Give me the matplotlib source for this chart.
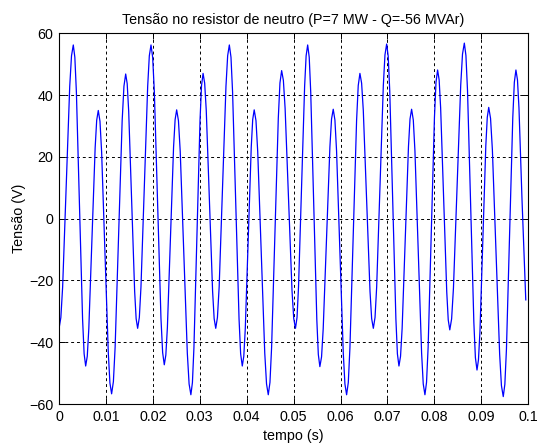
import numpy as np
import matplotlib
matplotlib.use('Agg')
import matplotlib.pyplot as plt

### values (one row per half wave)
tempo = [0.0, 0.00038, 0.00076, 0.00152, 0.00227, 0.00265,
         0.00303, 0.00336, 0.00369, 0.00435, 0.00501, 0.00534,
         0.00567, 0.00601, 0.00634, 0.00702, 0.00769, 0.00802,
         0.00836, 0.00872, 0.00907, 0.00978, 0.01049, 0.01084,
         0.0112, 0.01158, 0.01195, 0.0127, 0.01345, 0.01383,
         0.0142, 0.01452, 0.01484, 0.01548, 0.01611, 0.01643,
         0.01675, 0.01711, 0.01746, 0.01818, 0.01889, 0.01924,
         0.0196, 0.01995, 0.02031, 0.02102, 0.02172, 0.02208,
         0.02243, 0.02276, 0.02309, 0.02375, 0.02441, 0.02474,
         0.02507, 0.02545, 0.02583, 0.02659, 0.02734, 0.02772,
         0.0281, 0.02843, 0.02875, 0.0294, 0.03005, 0.03037,
         0.0307, 0.03104, 0.03138, 0.03205, 0.03273, 0.03306,
         0.0334, 0.03376, 0.03413, 0.03485, 0.03558, 0.03594,
         0.0363, 0.03665, 0.03699, 0.03768, 0.03837, 0.03871,
         0.03906, 0.03938, 0.0397, 0.04033, 0.04097, 0.04128,
         0.0416, 0.04198, 0.04235, 0.0431, 0.04385, 0.04423,
         0.0446, 0.04496, 0.04531, 0.04603, 0.04674, 0.04709,
         0.04745, 0.04782, 0.04819, 0.04893, 0.04966, 0.05003,
         0.0504, 0.05073, 0.05105, 0.0517, 0.05235, 0.05267,
         0.053, 0.05333, 0.05365, 0.0543, 0.05495, 0.05527,
         0.0556, 0.05596, 0.05631, 0.05703, 0.05774, 0.05809,
         0.05845, 0.05881, 0.05916, 0.05988, 0.06059, 0.06094,
         0.0613, 0.06166, 0.06201, 0.06272, 0.06343, 0.06378,
         0.06414, 0.0645, 0.06486, 0.06557, 0.06629, 0.06664,
         0.067, 0.06736, 0.06771, 0.06842, 0.06913, 0.06948,
         0.06984, 0.07017, 0.0705, 0.07115, 0.07181, 0.07213,
         0.07246, 0.0728, 0.07314, 0.07381, 0.07449, 0.07482,
         0.07516, 0.07552, 0.07587, 0.07658, 0.07729, 0.07764,
         0.078, 0.07834, 0.07868, 0.07935, 0.08003, 0.08036,
         0.0807, 0.08103, 0.08135, 0.082, 0.08265, 0.08297,
         0.0833, 0.08369, 0.08408, 0.08485, 0.08563, 0.08601,
         0.0864, 0.08674, 0.08708, 0.08775, 0.08843, 0.08876,
         0.0891, 0.08941, 0.08973, 0.09035, 0.09098, 0.09129,
         0.0916, 0.09199, 0.09238, 0.09315, 0.09393, 0.09431,
         0.0947, 0.09504, 0.09538, 0.09605, 0.09673, 0.09706,
         0.0974, 0.09773, 0.09805, 0.0987, 0.0995]

tensao = [-35.5, -32.0, -22.1, 10.35, 42.8, 52.7,
          56.2, 52.25, 41.0, 4.25, -32.5, -43.75,
          -47.7, -44.55, -35.6, -6.35, 22.9, 31.85,
          35.0, 31.5, 21.6, -10.85, -43.3, -53.2,
          -56.7, -52.75, -41.6, -4.95, 31.7, 42.85,
          46.8, 43.7, 34.8, 5.65, -23.5, -32.4,
          -35.5, -32.0, -22.1, 10.35, 42.8, 52.7,
          56.2, 52.25, 41.1, 4.45, -32.2, -43.35,
          -47.3, -44.15, -35.3, -6.05, 23.2, 32.05,
          35.2, 31.7, 21.7, -10.9, -43.5, -53.5,
          -57.0, -53.05, -41.8, -5.0, 31.8, 43.05,
          47.0, 43.85, 35.0, 5.75, -23.5, -32.35,
          -35.5, -32.0, -22.1, 10.35, 42.8, 52.7,
          56.2, 52.25, 41.0, 4.25, -32.5, -43.75,
          -47.7, -44.55, -35.6, -6.25, 23.1, 32.05,
          35.2, 31.7, 21.7, -10.9, -43.5, -53.5,
          -57.0, -53.0, -41.7, -4.55, 32.6, 43.9,
          47.9, 44.75, 35.7, 6.2, -23.3, -32.35,
          -35.5, -32.0, -22.1, 10.35, 42.8, 52.7,
          56.2, 52.25, 41.0, 4.15, -32.7, -43.95,
          -47.9, -44.75, -35.7, -6.25, 23.2, 32.25,
          35.4, 31.9, 21.9, -10.8, -43.5, -53.5,
          -57.0, -53.05, -41.8, -5.0, 31.8, 43.05,
          47.0, 43.85, 35.0, 5.75, -23.5, -32.35,
          -35.5, -32.0, -22.1, 10.5, 43.1, 53.0,
          56.5, 52.55, 41.3, 4.4, -32.5, -43.75,
          -47.7, -44.55, -35.5, -6.15, 23.3, 32.25,
          35.4, 31.9, 21.9, -10.8, -43.5, -53.5,
          -57.0, -53.0, -41.7, -4.45, 32.8, 44.1,
          48.1, 44.9, 35.8, 6.05, -23.7, -32.8,
          -36.0, -32.45, -22.5, 10.4, 43.2, 53.25,
          56.8, 52.8, 41.4, 3.9, -33.6, -45.0,
          -49.0, -45.75, -36.6, -6.5, 23.6, 32.75,
          36.0, 32.45, 22.3, -10.8, -43.9, -54.05,
          -57.6, -53.6, -42.2, -4.75, 32.7, 44.1,
          48.1, 44.9, 35.8, 6.0, -26.3]

xticks = [0, 0.01, 0.02, 0.03, 0.04, 0.05, 0.06, 0.07, 0.08, 0.09, 0.1]
xticklabels = ['0', '0.01', '0.02', '0.03', '0.04', '0.05', '0.06', '0.07', '0.08', '0.09', '0.1']
yticks = [-60, -40, -20, 0, 20, 40, 60]

plt.rcParams['font.family'] = ['Liberation Sans', 'DejaVu Sans']
plt.rcParams['font.size'] = 10.3

fig = plt.figure(figsize=(5.4, 4.43), dpi=100)
ax = fig.add_axes([0.1094, 0.088, 0.978 - 0.1094, 0.925 - 0.088])

ax.plot(tempo, tensao, color='#0000ff', lw=0.9)

ax.set_xlim(0, 0.1)
ax.set_ylim(-60, 60)
ax.set_xticks(xticks)
ax.set_xticklabels(xticklabels)
ax.set_yticks(yticks)
ax.grid(True, color='k', linestyle=(0, (3, 3)), lw=0.7)
ax.tick_params(direction='in', length=4, width=0.7, top=True, right=True, pad=4)
for s in ax.spines.values():
    s.set_linewidth(0.8)

fig.text(293.6/540, 1 - 20.4/443, 'Tensão no resistor de neutro (P=7 MW - Q=-56 MVAr)',
         ha='center', va='center')
ax.set_xlabel('tempo (s)', labelpad=4)
ax.set_ylabel('Tensão (V)', labelpad=2)

fig.savefig('out.png', dpi=100)
